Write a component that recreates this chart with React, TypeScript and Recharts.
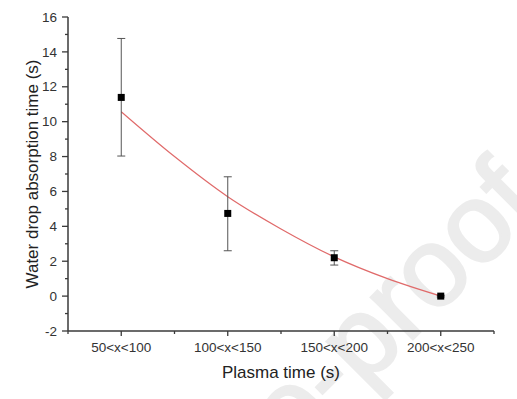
import { ComposedChart, Scatter, Line, XAxis, YAxis, ErrorBar, Label } from "recharts";

const categories = ["50<x<100", "100<x<150", "150<x<200", "200<x<250"];
const absorption = [11.39, 4.74, 2.2, 0.0];
const errLow = [3.36, 2.14, 0.42, 0.05];
const errHigh = [3.38, 2.1, 0.4, 0.05];

// fitted curve
const fitX = [1, 1.5, 2, 2.5, 3, 3.5, 4];
const fitY = [10.57, 8.0, 5.7, 3.85, 2.25, 1.0, 0.0];

const xTicks = [0.5, 1, 1.5, 2, 2.5, 3, 3.5, 4, 4.5];
const yTicks = [-2, -1, 0, 1, 2, 3, 4, 5, 6, 7, 8, 9, 10, 11, 12, 13, 14, 15, 16];

const FONT = "Arial, 'Liberation Sans', sans-serif";
const AXIS = "#3a3a3a";

const points = categories.map((c, i) => ({
  x: i + 1,
  y: absorption[i],
  err: [errLow[i], errHigh[i]],
}));
const fit = fitX.map((x, i) => ({ x, fy: fitY[i] }));

function XTick({ x, y, payload }: any) {
  const v = payload.value;
  const major = Number.isInteger(v);
  return (
    <g>
      <line x1={x} x2={x} y1={y} y2={y + (major ? 5 : 3)} stroke={AXIS} strokeWidth={1.3} />
      {major && (
        <text x={x} y={y + 21} textAnchor="middle" fontSize={13.5} fill="#333" fontFamily={FONT}>
          {categories[v - 1]}
        </text>
      )}
    </g>
  );
}

function YTick({ x, y, payload }: any) {
  const v = payload.value;
  const major = v % 2 === 0;
  return (
    <g>
      <line x1={x - (major ? 6 : 3)} x2={x} y1={y} y2={y} stroke={AXIS} strokeWidth={1.3} />
      {major && (
        <text x={x - 11} y={y + 4.7} textAnchor="end" fontSize={13.5} fill="#333" fontFamily={FONT}>
          {v}
        </text>
      )}
    </g>
  );
}

function Square({ cx, cy }: any) {
  return <rect x={cx - 3.5} y={cy - 3.5} width={7} height={7} fill="#000" />;
}

export default function App() {
  return (
    <div style={{ position: "absolute", left: 0, top: 0, width: 517, height: 399, background: "#fff" }}>
      <svg width={517} height={399} style={{ position: "absolute", left: 0, top: 0 }}>
        <text
          x={544}
          y={208}
          textAnchor="end"
          fontSize={112}
          fill="#ececec"
          stroke="#ececec"
          strokeWidth={2.5}
          fontFamily={FONT}
          transform="rotate(-45 544 208)"
        >
          Journal Pre-proof
        </text>
      </svg>
      <div style={{ position: "absolute", left: 0, top: 0 }}>
        <ComposedChart width={517} height={399} margin={{ top: 17, right: 23, left: 0, bottom: 0 }}>
          <XAxis
            dataKey="x"
            type="number"
            domain={[0.5, 4.5]}
            ticks={xTicks}
            interval={0}
            height={68}
            tickSize={0}
            tickMargin={0}
            tick={<XTick />}
            axisLine={{ stroke: AXIS, strokeWidth: 1.5 }}
            allowDataOverflow
          >
            <Label
              content={({ viewBox }: any) => (
                <text
                  x={viewBox.x + viewBox.width / 2}
                  y={viewBox.y + 47}
                  textAnchor="middle"
                  fontSize={17}
                  fill="#222"
                  fontFamily={FONT}
                >
                  Plasma time (s)
                </text>
              )}
            />
          </XAxis>
          <YAxis
            type="number"
            domain={[-2, 16]}
            ticks={yTicks}
            interval={0}
            width={68}
            tickSize={0}
            tickMargin={0}
            tick={<YTick />}
            axisLine={{ stroke: AXIS, strokeWidth: 1.5 }}
            allowDataOverflow
          >
            <Label
              content={({ viewBox }: any) => {
                const cx = 32;
                const cy = viewBox.y + viewBox.height / 2;
                return (
                  <text
                    x={cx}
                    y={cy}
                    textAnchor="middle"
                    dominantBaseline="central"
                    fontSize={17}
                    fill="#222"
                    fontFamily={FONT}
                    transform={`rotate(-90 ${cx} ${cy})`}
                  >
                    Water drop absorption time (s)
                  </text>
                );
              }}
            />
          </YAxis>
          <Line
            data={fit}
            dataKey="fy"
            type="monotone"
            stroke="#e06a6a"
            strokeWidth={1.2}
            dot={false}
            isAnimationActive={false}
          />
          <Scatter data={points} dataKey="y" shape={<Square />} isAnimationActive={false}>
            <ErrorBar dataKey="err" direction="y" width={4} stroke="#555" strokeWidth={1} />
          </Scatter>
        </ComposedChart>
      </div>
    </div>
  );
}
